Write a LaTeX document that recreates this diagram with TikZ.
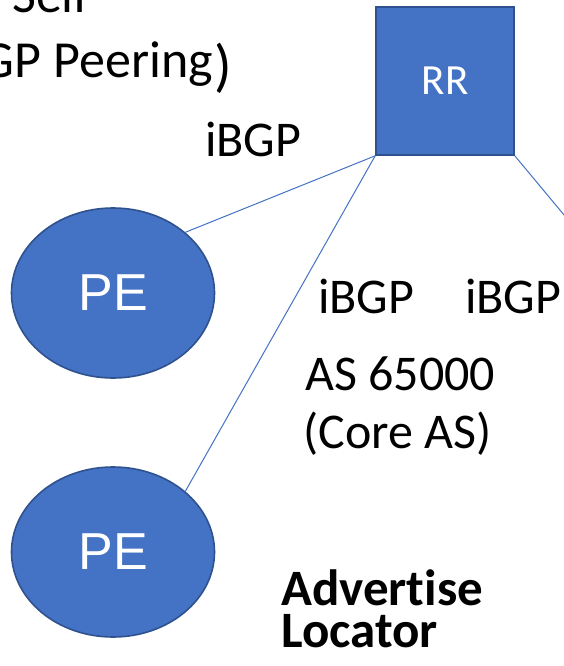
\documentclass[tikz,border=0pt]{standalone}
\usepackage{fontspec}
\setmainfont{Carlito}[Ligatures={NoCommon}]
\newfontfamily\arialfont{Liberation Sans}
\usetikzlibrary{shapes.geometric}
\definecolor{nodeblue}{HTML}{4472C4}
\definecolor{nodeedge}{HTML}{2F528F}

\tikzset{
  rrbox/.style={rectangle, fill=nodeblue, draw=nodeedge, line width=1.6pt,
    minimum width=138pt, minimum height=148pt, inner sep=0pt,
    text=white, font=\fontsize{43}{50}\selectfont},
  pebox/.style={ellipse, fill=nodeblue, draw=nodeedge, line width=1.6pt,
    minimum width=203pt, minimum height=170pt, inner sep=0pt,
    text=white, font=\arialfont\fontsize{52}{60}\selectfont},
  link/.style={draw=nodeblue, line width=1pt},
  lbl/.style={anchor=base west, inner sep=0pt, font=\fontsize{50}{58}\selectfont},
  boldlbl/.style={anchor=base west, inner sep=0pt, align=left,
    font=\bfseries\fontsize{51}{42}\selectfont},
  toplbl/.style={anchor=base east, inner sep=0pt, font=\fontsize{52}{64}\selectfont}
}

\begin{document}
\begin{tikzpicture}[x=1pt, y=-1pt]
\useasboundingbox (0,0) rectangle (564,666);
\clip (0,0) rectangle (564,666);
\fill[white] (0,0) rectangle (564,666);

% routers
\node[rrbox] (rr) at (445,81) {RR};
\node[pebox] (pe1) at (113,293) {PE};
\node[pebox] (pe2) at (113,552) {PE};

% iBGP sessions to the route reflector
\coordinate (farpe) at (614,275);
\draw[link] (rr.south west) -- (pe1.40);
\draw[link] (rr.south west) -- (pe2.40);
\draw[link] (rr.south east) -- (farpe);

% labels
\node[lbl] (ibgpa) at (205,157) {iBGP};
\node[lbl] (ibgpb) at (318,313) {iBGP};
\node[lbl] (ibgpc) at (465,313) {iBGP};
\node[lbl] (asnum) at (305,390) {AS 65000};
\node[lbl] (asname) at (303,448) {(Core AS)};
% the base anchor of this two-line node sits on its last line
\node[boldlbl] (adv) at (281,647) {Advertise\\Locator};

% heading text running in from the left
\node[toplbl] (topa) at (90,13) {o Self};
\node[toplbl] (topb) at (213,78) {GP Peering};
\node[anchor=base west, inner sep=0pt, font=\fontsize{58}{64}\selectfont] (paren) at (214,86) {)};
\end{tikzpicture}
\end{document}
